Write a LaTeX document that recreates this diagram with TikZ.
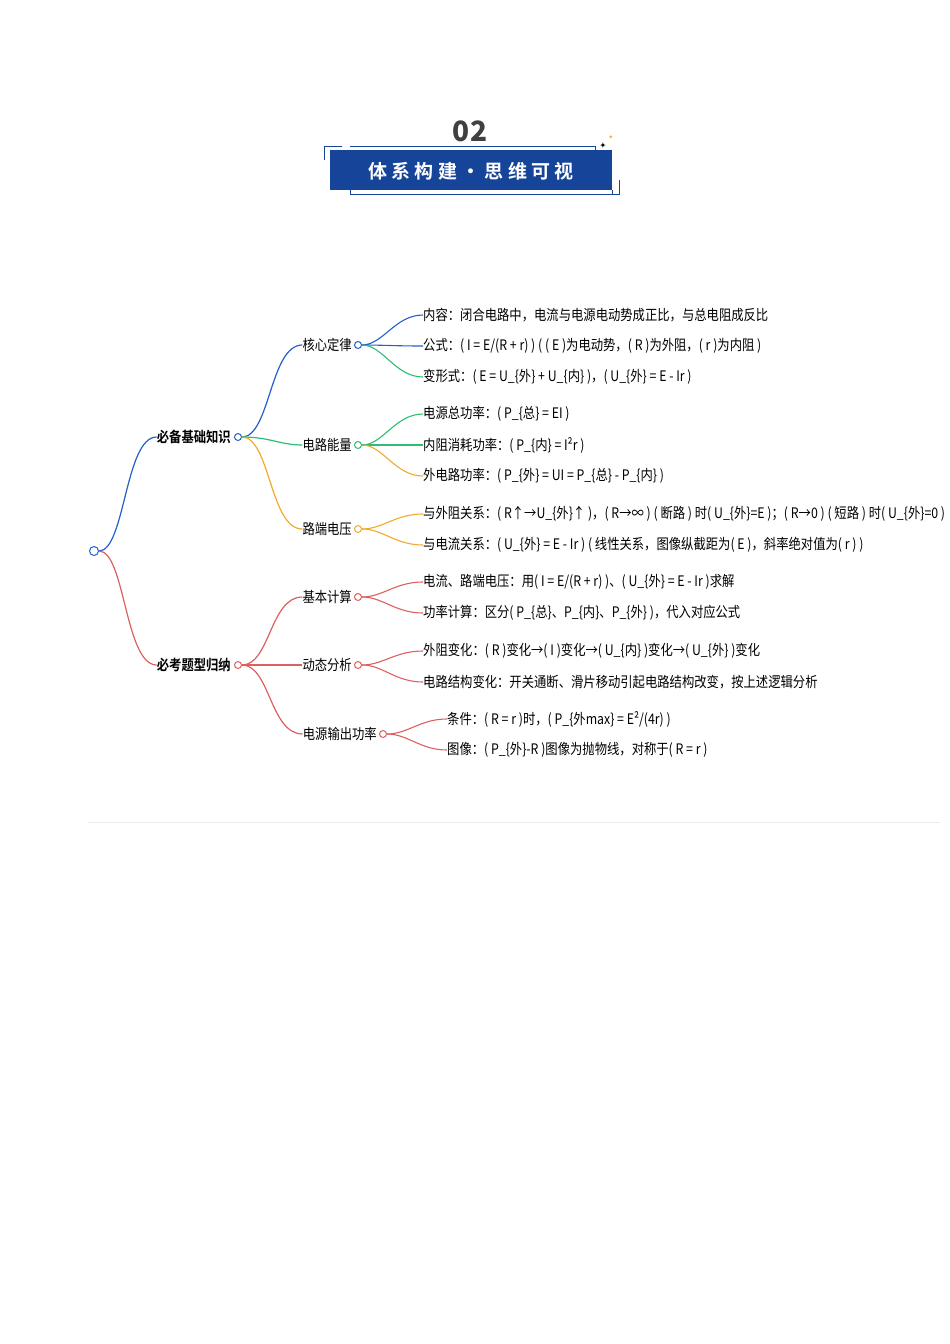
\documentclass[tikz,border=0pt]{standalone}
\usepackage{fontspec}
\usetikzlibrary{calc}
\setmainfont{Noto Sans CJK SC}
\newfontfamily\cjkb{Noto Sans CJK SC Bold}
\newfontfamily\dejavu{DejaVu Sans}
\newcommand\cn[1]{\scalebox{0.85}[1]{#1}}
\definecolor{cb}{RGB}{35,95,205}
\definecolor{cg}{RGB}{45,190,115}
\definecolor{co}{RGB}{240,170,45}
\definecolor{cr}{RGB}{222,95,95}
\definecolor{hb}{RGB}{22,68,152}
\begin{document}
\begin{tikzpicture}[x=1pt,y=-1pt,
  lf/.style={anchor=west,inner sep=0pt,font=\fontsize{14.5}{16}\selectfont},
  mid/.style={anchor=east,inner sep=0pt,font=\fontsize{14.5}{16}\selectfont},
  top/.style={anchor=east,inner sep=0pt,font=\cjkb\fontsize{14.5}{16}\selectfont},
  dot/.style={circle,draw=#1,fill=white,line width=1pt,inner sep=0pt,minimum size=7pt},
  ed/.style={draw=#1,line width=1.2pt}]
\useasboundingbox (0,0) rectangle (950,1344);
% header
\node[font=\bfseries\fontsize{28}{30}\selectfont,text=black!75] (num) at (470,131) {02};
\fill[hb] (330,150) rectangle (612,190);
\node[text=white,font=\cjkb\fontsize{19}{21}\selectfont] (ttl) at (471,171) {体 系 构 建 · 思 维 可 视};
\draw[hb,line width=0.8pt] (324,160) -- (324,146) -- (342,146);
\draw[hb,line width=0.8pt] (350,146) -- (595,146) -- (595,150);
\draw[hb,line width=0.8pt] (612,190) -- (612,194) -- (350,194) -- (350,190);
\draw[hb,line width=0.8pt] (619,180) -- (619,194) -- (612,194);
\node[font=\dejavu\fontsize{8}{8}\selectfont] (st1) at (603,146) {✦};
\node[font=\dejavu\fontsize{6}{6}\selectfont,text=co] (st2) at (611,137) {✦};
\draw[black!8] (88,822) -- (940,822);
% nodes
\node[dot=cb,minimum size=9pt] (root) at (94,551) {};
\node[dot=cb] (a) at (238,437) {};
\node[top,text=black] (at) at (231,437) {\cn{必备基础知识}};
\node[dot=cr] (b) at (238,665) {};
\node[top,text=black] (bt) at (231,665) {\cn{必考题型归纳}};
\foreach \n/\y/\c/\t in {a1/345/cb/核心定律,a2/445/cg/电路能量,a3/529/co/路端电压,b1/597/cr/基本计算,b2/665/cr/动态分析}{
  \node[dot=\c] (\n) at (358,\y) {};
  \node[mid] (\n t) at (352,\y) {\cn{\t}};
}
\node[dot=cr] (b3) at (383,734) {};
\node[mid] (b3t) at (377,734) {\cn{电源输出功率}};
\draw[ed=cb] (root) .. controls (125,551) and (125,437) .. (at.west);
\draw[ed=cr] (root) .. controls (125,551) and (125,665) .. (bt.west);
\draw[ed=cb] (a) .. controls (270,437) and (270,345) .. (a1t.west);
\draw[ed=cg] (a) .. controls (270,437) and (280,445) .. (a2t.west);
\draw[ed=co] (a) .. controls (270,437) and (270,529) .. (a3t.west);
\draw[ed=cr] (b) .. controls (270,665) and (270,597) .. (b1t.west);
\draw[ed=cr] (b) -- (b2t.west);
\draw[ed=cr] (b) .. controls (270,665) and (270,734) .. (b3t.west);
% leaves
\foreach \p/\n/\y/\c/\t in {
 a1/l1/315/cb/{内容：闭合电路中，电流与电源电动势成正比，与总电阻成反比},
 a1/l2/346/cb/{公式：( I = E/(R + r) ) ( ( E )为电动势，( R )为外阻，( r )为内阻 )},
 a1/l3/377/cg/{变形式：( E = U\_\{外\} + U\_\{内\} )，( U\_\{外\} = E - Ir )},
 a2/l4/414/cg/{电源总功率：( P\_\{总\} = EI )},
 a2/l5/445/cg/{内阻消耗功率：( P\_\{内\} = I²r )},
 a2/l6/476/co/{外电路功率：( P\_\{外\} = UI = P\_\{总\} - P\_\{内\} )},
 a3/l7/514/co/{与外阻关系：( R↑→U\_\{外\}↑ )，( R→∞ ) ( 断路 ) 时( U\_\{外\}=E )；( R→0 ) ( 短路 ) 时( U\_\{外\}=0 )},
 a3/l8/545/co/{与电流关系：( U\_\{外\} = E - Ir ) ( 线性关系，图像纵截距为( E )，斜率绝对值为( r ) )},
 b1/l9/582/cr/{电流、路端电压：用( I = E/(R + r) )、( U\_\{外\} = E - Ir )求解},
 b1/l10/613/cr/{功率计算：区分( P\_\{总\}、P\_\{内\}、P\_\{外\} )，代入对应公式},
 b2/l11/651/cr/{外阻变化：( R )变化→( I )变化→( U\_\{内\} )变化→( U\_\{外\} )变化},
 b2/l12/682/cr/{电路结构变化：开关通断、滑片移动引起电路结构改变，按上述逻辑分析}}{
  \node[lf] (\n) at (423,\y) {\cn{\t}};
  \draw[ed=\c,line width=1.1pt] (\p) .. controls ($(\p)+(25,0)$) and (395,\y) .. (\n.west);
}
\node[lf] (l13) at (447,719) {\cn{条件：( R = r )时，( P\_\{外max\} = E²/(4r) )}};
\node[lf] (l14) at (447,750) {\cn{图像：( P\_\{外\}-R )图像为抛物线，对称于( R = r )}};
\draw[ed=cr,line width=1.1pt] (b3) .. controls (408,734) and (420,719) .. (l13.west);
\draw[ed=cr,line width=1.1pt] (b3) .. controls (408,734) and (420,750) .. (l14.west);
\end{tikzpicture}
\end{document}
